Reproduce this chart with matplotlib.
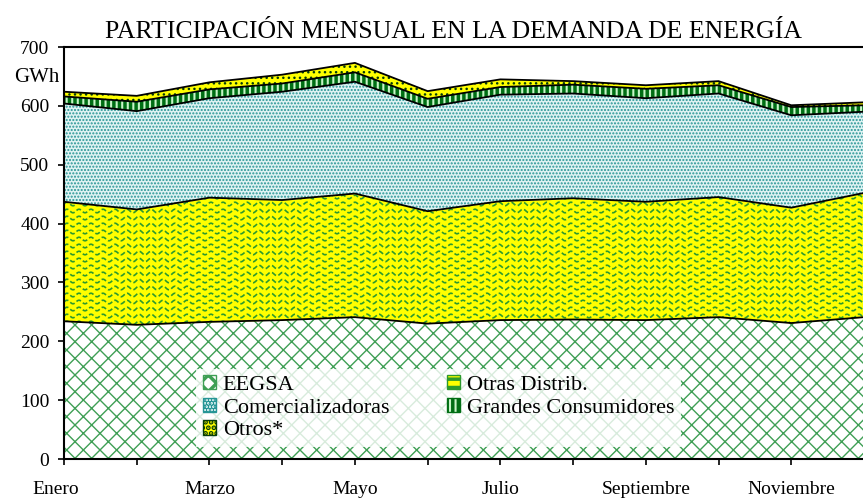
import numpy as np
import matplotlib.pyplot as plt
from matplotlib.patches import Patch
from matplotlib.transforms import ScaledTranslation

plt.rcParams['font.family'] = ['Liberation Serif', 'DejaVu Serif']

# datos (GWh)
meses = ["Enero", "Febrero", "Marzo", "Abril", "Mayo", "Junio", "Julio",
         "Agosto", "Septiembre", "Octubre", "Noviembre", "Diciembre"]
eegsa = [234, 228, 233, 236, 241, 230, 236, 237, 236, 241, 231, 241]
otras_distrib = [203, 196, 211, 204, 210, 191, 202, 206, 201, 204, 196, 211]
comercializadoras = [167, 167, 169, 184, 190, 177, 181, 178, 176, 176, 157, 138]
grandes_consumidores = [12, 16, 15, 14, 16, 14, 13, 15, 16, 14, 14, 11]
otros = [8, 10, 12, 15, 16, 13, 13, 6, 6, 7, 3, 5]

W, H = 863, 498
fig = plt.figure(figsize=(W / 100, H / 100), dpi=100)
ax_px = (64, 39, 800, 412)  # left, bottom, ancho, alto en pixeles
ax = fig.add_axes([ax_px[0] / W, ax_px[1] / H, ax_px[2] / W, ax_px[3] / H])

x = np.arange(len(meses))

# estilo de cada capa: (valores, etiqueta, fondo, color trama, trama, grosor trama)
capas = [
    (eegsa, "EEGSA", "white", "#3f9f55", "xx", 1.0),
    (otras_distrib, "Otras Distrib.", "#ffff00", "#ffff00", None, 1.0),
    (comercializadoras, "Comercializadoras", "#dff3f3", "#259595", ".....", 1.0),
    (grandes_consumidores, "Grandes Consumidores", "#c8f5c8", "#006e14", "|||", 2.5),
    (otros, "Otros*", "#ffff00", "#063c0a", "...", 1.0),
]

base = np.zeros(len(meses))
polys = {}
for vals, lab, fc, hc, h, hlw in capas:
    top = base + np.array(vals)
    plt.rcParams['hatch.linewidth'] = hlw
    poly = ax.fill_between(x, base, top, facecolor=fc, edgecolor=hc,
                           hatch=h, linewidth=0, zorder=1)
    ax.plot(x, top, color="black", lw=1.3, zorder=3)
    polys[lab] = poly
    base = top

# trama ondulada para "Otras Distrib."
xs = np.linspace(0, ax_px[2], 800)
for yrow in np.arange(3, ax_px[3], 7.0):
    ys = yrow + 1.8 * np.sin(2 * np.pi * xs / 12)
    ln, = ax.plot(xs / ax_px[2], ys / ax_px[3], transform=ax.transAxes,
                  color="#2d9a2d", lw=1.2, ls=(0, (3, 1.5)), zorder=2)
    ln.set_clip_path(polys["Otras Distrib."].get_paths()[0], ax.transData)

ax.set_xlim(0, 11)
ax.set_ylim(0, 700)
ax.set_yticks(np.arange(0, 701, 100))
ax.set_xticks(x)
ax.set_xticklabels([m if i % 2 == 0 else "" for i, m in enumerate(meses)])
ax.tick_params(axis="y", direction="out", length=4.5, width=1.2, labelsize=14, pad=6)
ax.tick_params(axis="x", direction="out", length=4.5, width=1.2, labelsize=14, pad=11)
for s in ax.spines.values():
    s.set_linewidth(1.5)
# "Enero" queda un poco corrida a la izquierda en el original
lbl0 = ax.get_xticklabels()[0]
lbl0.set_transform(lbl0.get_transform() + ScaledTranslation(-0.08, 0, fig.dpi_scale_trans))

# leyenda
plt.rcParams['hatch.linewidth'] = 1.0
h_eegsa = Patch(facecolor="white", edgecolor="#3f9f55", hatch="xx")
h_com = Patch(facecolor="#dff3f3", edgecolor="#259595", hatch=".....")
h_otros = Patch(facecolor="#ffff00", edgecolor="#063c0a", hatch="...")
h_od = Patch(facecolor="#ffff00", edgecolor="#2d9a2d", hatch="--")
plt.rcParams['hatch.linewidth'] = 2.5
h_gc = Patch(facecolor="#c8f5c8", edgecolor="#006e14", hatch="|||")
ax.legend([h_eegsa, h_com, h_otros, h_od, h_gc],
          ["EEGSA", "Comercializadoras", "Otros*", "Otras Distrib.", "Grandes Consumidores"],
          ncol=2, loc="lower left", bbox_to_anchor=(0.165, 0.029),
          fontsize=16, frameon=True, fancybox=False, framealpha=0.8,
          facecolor="white", edgecolor="none", handlelength=0.6, handleheight=0.6,
          handletextpad=0.3, labelspacing=0.12, columnspacing=2.6,
          borderpad=0.3, borderaxespad=0)

fig.text(453 / W, 1 - 32 / H, "PARTICIPACIÓN MENSUAL EN LA DEMANDA DE ENERGÍA",
         ha="center", va="center", fontsize=18.5)
fig.text(37 / W, 1 - 77 / H, "GWh", ha="center", va="center", fontsize=15)

fig.savefig("out.png", dpi=100)
